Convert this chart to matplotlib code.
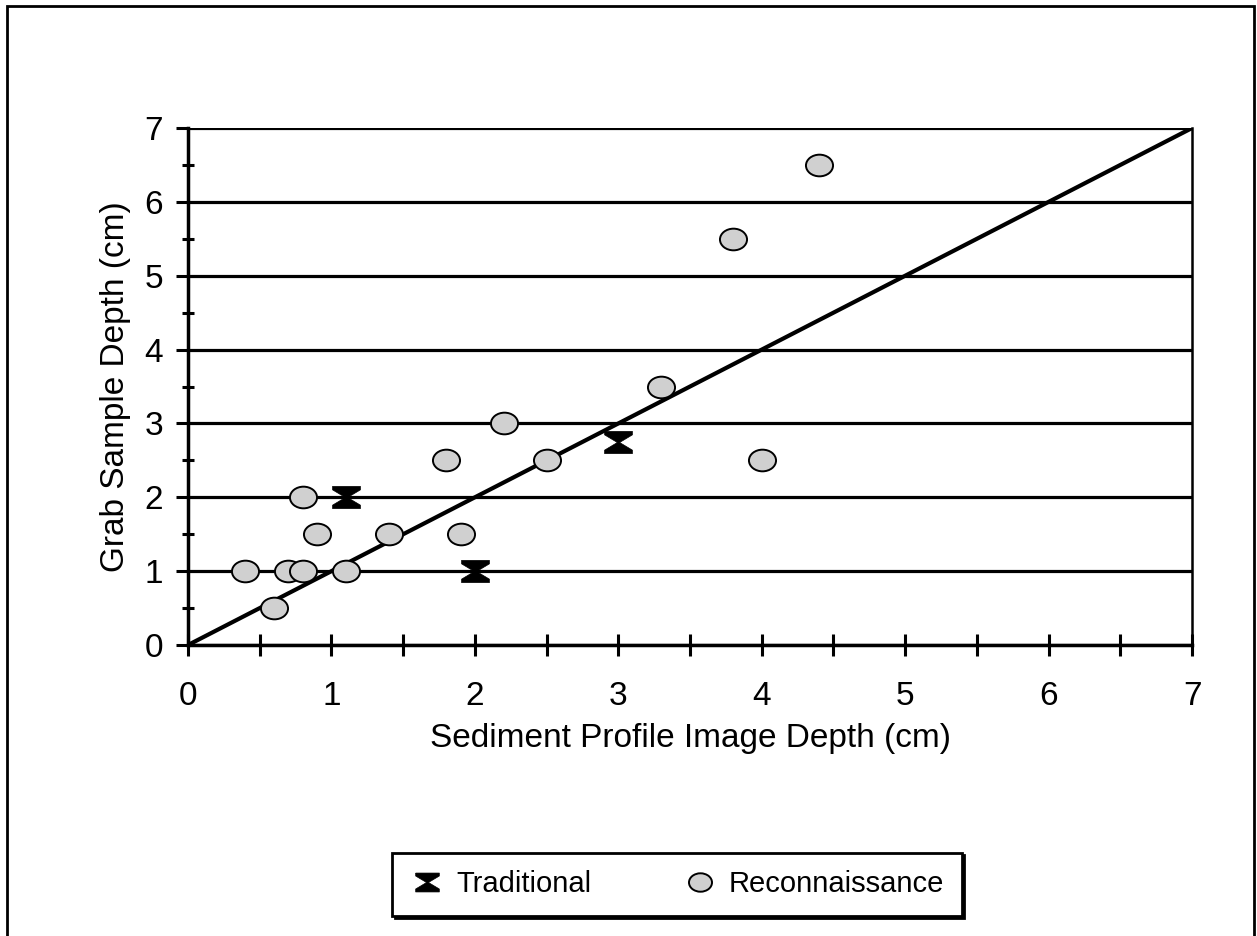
import numpy as np
import matplotlib.pyplot as plt
from matplotlib.path import Path
from matplotlib.transforms import Affine2D
from matplotlib.patches import Rectangle
from matplotlib.ticker import MultipleLocator

plt.rcParams['font.family'] = ['Liberation Sans', 'DejaVu Sans']

# Reconnaissance survey: SPI depth vs grab sample depth (cm)
recon_x = [0.4, 0.6, 0.7, 0.8, 0.8, 0.9, 1.1, 1.4, 1.8, 1.9, 2.2, 2.5, 3.3, 3.8, 4.0, 4.4]
recon_y = [1.0, 0.5, 1.0, 1.0, 2.0, 1.5, 1.0, 1.5, 2.5, 1.5, 3.0, 2.5, 3.5, 5.5, 2.5, 6.5]

# Traditional survey
trad_x = [1.1, 2.0, 3.0]
trad_y = [2.0, 1.0, 2.75]

# 1:1 reference line
line_x = [0, 7]
line_y = [0, 7]

# custom markers
ellipse = Path.unit_circle().transformed(Affine2D().scale(1.25, 1.0))
hourglass = Path([(-1, 0.8), (1, 0.8), (1, 0.55), (0.08, 0.0), (1, -0.55), (1, -0.8),
                  (-1, -0.8), (-1, -0.55), (-0.08, 0.0), (-1, 0.55), (-1, 0.8)])

fig = plt.figure(figsize=(12.57, 9.36), dpi=100)
ax = fig.add_axes([0.1496, 0.3109, 0.7987, 0.5523])

ax.set_xlim(0, 7)
ax.set_ylim(0, 7)

ax.grid(axis='y', which='major', color='black', lw=2.3)
ax.set_axisbelow(True)

ax.plot(line_x, line_y, color='black', lw=3, zorder=3, solid_capstyle='butt')

ax.plot(recon_x, recon_y, ls='none', marker=ellipse, markersize=19.5,
        markerfacecolor='#d0d0d0', markeredgecolor='black', markeredgewidth=1.4,
        zorder=4, label='Reconnaissance')
ax.plot(trad_x, trad_y, ls='none', marker=hourglass, markersize=20,
        markerfacecolor='black', markeredgecolor='black', markeredgewidth=0.5,
        zorder=5, label='Traditional')

ax.spines['top'].set_visible(False)
for side in ['left', 'bottom']:
    ax.spines[side].set_linewidth(2.5)
ax.spines['right'].set_linewidth(1.8)

ax.xaxis.set_major_locator(MultipleLocator(1))
ax.xaxis.set_minor_locator(MultipleLocator(0.5))
ax.yaxis.set_major_locator(MultipleLocator(1))
ax.yaxis.set_minor_locator(MultipleLocator(0.5))

ax.tick_params(axis='x', which='both', direction='inout', length=16, width=2.2,
               labelsize=24, pad=18, top=False)
ax.tick_params(axis='y', which='major', direction='out', length=9, width=2.2,
               labelsize=24, pad=9, right=False)
ax.tick_params(axis='y', which='minor', direction='inout', length=9, width=2.2, right=False)

ax.set_xlabel('Sediment Profile Image Depth (cm)', fontsize=24, labelpad=8)
ax.set_ylabel('Grab Sample Depth (cm)', fontsize=24, labelpad=10)

handles, labels = ax.get_legend_handles_labels()
leg = fig.legend(handles[::-1], labels[::-1], loc='center', ncol=2,
                 bbox_to_anchor=(677 / 1257, 1 - 884 / 936), fontsize=21,
                 frameon=True, fancybox=False, columnspacing=3.1,
                 shadow={'color': 'black', 'alpha': 1, 'ox': 2, 'oy': -2},
                 handletextpad=0.4, handlelength=1.2, borderpad=0.6,
                 edgecolor='black', markerscale=0.85, framealpha=1)
leg.get_frame().set_linewidth(2)

# outer frame around the chart
fig.patches.append(Rectangle((7 / 1257, -0.05), 1247 / 1257, 1.05 - 6 / 936,
                             transform=fig.transFigure, fill=False,
                             edgecolor='black', lw=2))

fig.savefig('out.png', dpi=100)
